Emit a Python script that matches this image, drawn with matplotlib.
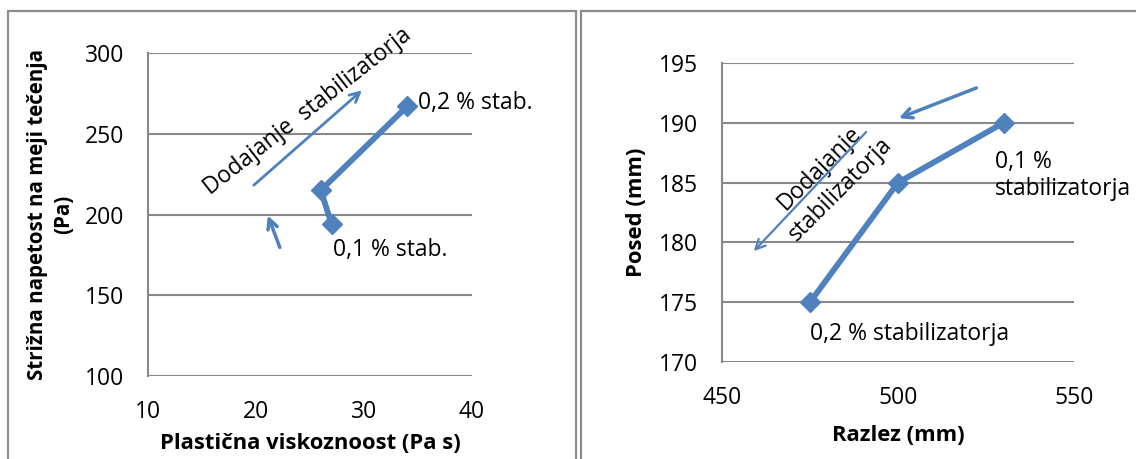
import matplotlib
matplotlib.use("Agg")
import matplotlib.pyplot as plt
from matplotlib.patches import Rectangle

plt.rcParams['font.family'] = ['Open Sans', 'DejaVu Sans']

# viskoznost / napetost tečenja
visk = [27, 26, 34]
napetost = [194, 215, 267]
# razlez / posed
razlez = [475, 500, 530]
posed = [175, 185, 190]

blue = '#4F81BD'
grid = '#888888'
fs = 16.5

fig = plt.figure(figsize=(11.36, 4.59), dpi=100)
W, H = 1136, 459


def ax_at(x0, y0, x1, y1):
    return fig.add_axes([x0 / W, 1 - y1 / H, (x1 - x0) / W, (y1 - y0) / H])


def style(ax):
    for s in ['top', 'right', 'bottom']:
        ax.spines[s].set_visible(False)
    ax.spines['left'].set_color(grid)
    ax.spines['left'].set_linewidth(1.5)
    ax.yaxis.grid(True, color=grid, linewidth=1.5)
    ax.set_axisbelow(True)
    ax.tick_params(length=0, labelsize=fs)
    ax.tick_params(axis='y', pad=17)
    ax.tick_params(axis='x', pad=17)


# okvirja obeh grafov
fig.patches.append(Rectangle((8 / W, -0.1), 568 / W, 1.1 - 11 / H, transform=fig.transFigure,
                             fill=False, edgecolor='#8c8c8c', linewidth=1.6))
fig.patches.append(Rectangle((581 / W, -0.1), 560 / W, 1.1 - 11 / H, transform=fig.transFigure,
                             fill=False, edgecolor='#8c8c8c', linewidth=1.6))

arrow = '->,head_length=0.7,head_width=0.35'

# levi graf
ax1 = ax_at(148, 53, 472, 376)
style(ax1)
ax1.plot(visk, napetost, color=blue, linewidth=4.2, marker='D', markersize=10.5, clip_on=False)
ax1.set_xlim(10, 40)
ax1.set_ylim(100, 300)
ax1.set_xticks([10, 20, 30, 40])
ax1.set_yticks([100, 150, 200, 250, 300])
ax1.set_xlabel('Plastična viskoznoost (Pa s)', fontsize=15.8, fontweight='bold', labelpad=7)
ax1.set_ylabel('Strižna napetost na meji tečenja\n(Pa)', fontsize=14.8, fontweight='bold',
               labelpad=8, linespacing=1.3)
ax1.text(35.0, 269, '0,2 % stab.', fontsize=fs, va='center', ha='left')
ax1.text(27.1, 178, '0,1 % stab.', fontsize=fs, va='center', ha='left')
ax1.text(24.8, 264, 'Dodajanje  stabilizatorja', fontsize=fs, rotation=38,
         ha='center', va='center', rotation_mode='anchor')
ax1.annotate('', xy=(30.0, 278), xytext=(19.6, 217),
             arrowprops=dict(arrowstyle=arrow, color=blue, lw=2))
ax1.annotate('', xy=(21.0, 201), xytext=(22.3, 178),
             arrowprops=dict(arrowstyle=arrow, color=blue, lw=2.5))

# desni graf
ax2 = ax_at(722, 63, 1074, 362)
style(ax2)
ax2.plot(razlez, posed, color=blue, linewidth=4.2, marker='D', markersize=10.5, clip_on=False)
ax2.set_xlim(450, 550)
ax2.set_ylim(170, 195)
ax2.set_xticks([450, 500, 550])
ax2.set_yticks([170, 175, 180, 185, 190, 195])
ax2.set_xlabel('Razlez (mm)', fontsize=15.8, fontweight='bold', labelpad=11)
ax2.set_ylabel('Posed (mm)', fontsize=15.8, fontweight='bold', labelpad=9)
ax2.text(527.6, 185.6, '0,1 %\nstabilizatorja', fontsize=fs, va='center', ha='left', linespacing=1.2)
ax2.text(475, 172.3, '0,2 % stabilizatorja', fontsize=fs, va='center', ha='left')
ax2.text(480.6, 185.3, 'Dodajanje\nstabilizatorja', fontsize=fs, rotation=45,
         ha='center', va='center', rotation_mode='anchor', linespacing=1.3)
ax2.annotate('', xy=(499.5, 190.3), xytext=(523, 193),
             arrowprops=dict(arrowstyle=arrow, color=blue, lw=2.5))
ax2.annotate('', xy=(458.5, 179.1), xytext=(491.5, 189.4),
             arrowprops=dict(arrowstyle=arrow, color=blue, lw=1.6))

fig.savefig('out.png', dpi=100)
